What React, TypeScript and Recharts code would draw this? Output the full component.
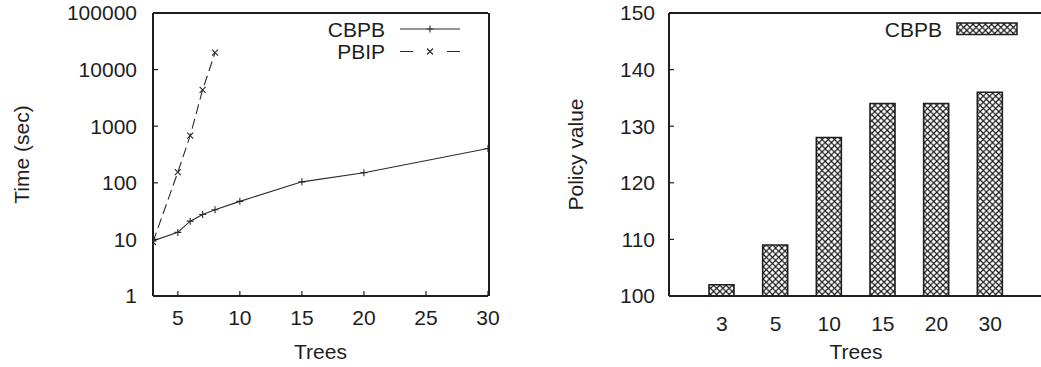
import { LineChart, Line, BarChart, Bar, XAxis, YAxis, Legend } from 'recharts';

// Run time per number of trees (log scale)
const CBPB_TREES = [3, 5, 6, 7, 8, 10, 15, 20, 30];
const CBPB_TIME = [9.4, 13.3, 21, 27.5, 33.5, 47, 104, 151, 404];
const PBIP_TREES = [3, 5, 6, 7, 8];
const PBIP_TIME = [9, 154, 680, 4400, 19900];

const TREE_TICKS = [5, 10, 15, 20, 25, 30];
const TIME_TICKS = [1, 10, 100, 1000, 10000, 100000];
const TIME_MINOR_TICKS = [2, 5, 8, 20, 50, 80, 200, 500, 800, 2000, 5000, 8000, 20000, 50000, 80000];

// Policy value per number of trees
const TREE_COUNTS = ['3', '5', '10', '15', '20', '30'];
const POLICY_VALUES = [102, 109, 128, 134, 134, 136];
const POLICY_TICKS = [100, 110, 120, 130, 140, 150];

const cbpbData = CBPB_TREES.map((t, i) => ({ trees: t, time: CBPB_TIME[i] }));
const pbipData = PBIP_TREES.map((t, i) => ({ trees: t, time: PBIP_TIME[i] }));
const policyData = TREE_COUNTS.map((t, i) => ({ trees: t, value: POLICY_VALUES[i] }));

const FONT = '"Liberation Sans", Arial, Helvetica, sans-serif';
const INK = '#1e1e1e';
const LINE = '#2a2a2a';
const tickFont = { fontSize: 21, fill: INK, fontFamily: FONT };
const axisLine = { stroke: INK, strokeWidth: 2 };
const tickLine = { stroke: INK, strokeWidth: 1.2 };

const plusDot = (p: any) => {
  const { cx, cy, index } = p;
  return (
    <path key={`p${index}`} d={`M${cx - 3.5},${cy}h7M${cx},${cy - 3.5}v7`} stroke={LINE} strokeWidth={1.1} fill="none" />
  );
};

const crossDot = (p: any) => {
  const { cx, cy, index } = p;
  return (
    <path key={`x${index}`} d={`M${cx - 3},${cy - 3}l6,6M${cx - 3},${cy + 3}l6,-6`} stroke={LINE} strokeWidth={1.1} fill="none" />
  );
};

function TimeLegend() {
  return (
    <svg width={180} height={50} style={{ display: 'block' }}>
      <text x={85} y={11} textAnchor="end" dominantBaseline="central" style={tickFont}>CBPB</text>
      <line x1={100} x2={160} y1={11} y2={11} stroke={LINE} strokeWidth={1.1} />
      <path d="M126.5,11h7M130,7.5v7" stroke={LINE} strokeWidth={1.1} />
      <text x={85} y={33.5} textAnchor="end" dominantBaseline="central" style={tickFont}>PBIP</text>
      <line x1={100} x2={160} y1={33.5} y2={33.5} stroke={LINE} strokeWidth={1.1} strokeDasharray="13 34 13" />
      <path d="M127,30.5l6,6M127,36.5l6,-6" stroke={LINE} strokeWidth={1.1} />
    </svg>
  );
}

function PolicyLegend() {
  return (
    <svg width={140} height={24} style={{ display: 'block' }}>
      <text x={62} y={11} textAnchor="end" dominantBaseline="central" style={tickFont}>CBPB</text>
      <rect x={77} y={5} width={60} height={11.5} fill="url(#crosshatch)" stroke={INK} strokeWidth={1.5} />
    </svg>
  );
}

function TimeChart() {
  return (
    <LineChart width={500} height={367} margin={{ top: 12, right: 10, bottom: 70, left: 151 }}>
      <XAxis
        dataKey="trees"
        type="number"
        domain={[3, 30]}
        ticks={TREE_TICKS}
        height={1}
        allowDataOverflow
        axisLine={axisLine}
        tickLine={tickLine}
        tickSize={-5}
        tickMargin={19}
        tick={tickFont}
        label={{ value: 'Trees', position: 'bottom', offset: 47, style: { ...tickFont, textAnchor: 'middle' } }}
      />
      <XAxis
        xAxisId="top"
        orientation="top"
        dataKey="trees"
        type="number"
        domain={[3, 30]}
        ticks={TREE_TICKS}
        height={1}
        axisLine={axisLine}
        tickLine={tickLine}
        tickSize={-5}
        tick={false}
      />
      <YAxis
        scale="log"
        type="number"
        domain={[1, 100000]}
        ticks={TIME_TICKS}
        width={1}
        allowDataOverflow
        axisLine={axisLine}
        tickLine={tickLine}
        tickSize={-5}
        tickMargin={21}
        tick={tickFont}
        label={{ value: 'Time (sec)', angle: -90, position: 'left', offset: 130, style: { ...tickFont, textAnchor: 'middle' } }}
      />
      <YAxis
        yAxisId="minorLeft"
        scale="log"
        type="number"
        domain={[1, 100000]}
        ticks={TIME_MINOR_TICKS}
        width={1}
        axisLine={false}
        tickLine={tickLine}
        tickSize={-4}
        tick={false}
      />
      <YAxis
        yAxisId="right"
        orientation="right"
        scale="log"
        type="number"
        domain={[1, 100000]}
        ticks={TIME_TICKS}
        width={1}
        axisLine={axisLine}
        tickLine={tickLine}
        tickSize={-5}
        tick={false}
      />
      <YAxis
        yAxisId="minorRight"
        orientation="right"
        scale="log"
        type="number"
        domain={[1, 100000]}
        ticks={TIME_MINOR_TICKS}
        width={1}
        axisLine={false}
        tickLine={tickLine}
        tickSize={-4}
        tick={false}
      />
      <Legend
        verticalAlign="middle"
        content={() => <TimeLegend />}
        wrapperStyle={{ position: 'absolute', left: 300, top: 18, width: 180 }}
      />
      <Line
        data={cbpbData}
        dataKey="time"
        name="CBPB"
        stroke={LINE}
        strokeWidth={1.1}
        dot={plusDot}
        activeDot={false}
        isAnimationActive={false}
      />
      <Line
        data={pbipData}
        dataKey="time"
        name="PBIP"
        stroke={LINE}
        strokeWidth={1.1}
        strokeDasharray="10 5"
        dot={crossDot}
        activeDot={false}
        isAnimationActive={false}
      />
    </LineChart>
  );
}

function PolicyChart() {
  return (
    <BarChart width={505} height={367} data={policyData} margin={{ top: 12, right: 1, bottom: 70, left: 128 }}>
      <defs>
        <pattern id="crosshatch" width={6.2} height={6.2} patternUnits="userSpaceOnUse">
          <rect width={6.2} height={6.2} fill="#fff" />
          <path d="M0,0L6.2,6.2M0,6.2L6.2,0" stroke="#111" strokeWidth={1.1} />
        </pattern>
      </defs>
      <XAxis
        dataKey="trees"
        height={1}
        padding={{ left: 26, right: 26 }}
        axisLine={axisLine}
        tickLine={false}
        tickMargin={14}
        tick={tickFont}
        label={{ value: 'Trees', position: 'bottom', offset: 47, style: { ...tickFont, textAnchor: 'middle' } }}
      />
      <XAxis xAxisId="top" orientation="top" dataKey="trees" height={1} axisLine={axisLine} tickLine={false} tick={false} />
      <YAxis
        type="number"
        domain={[100, 150]}
        ticks={POLICY_TICKS}
        width={1}
        allowDataOverflow
        axisLine={axisLine}
        tickLine={tickLine}
        tickSize={-5}
        tickMargin={19}
        tick={tickFont}
        label={{ value: 'Policy value', angle: -90, position: 'left', offset: 92, style: { ...tickFont, textAnchor: 'middle' } }}
      />
      <YAxis
        yAxisId="right"
        orientation="right"
        type="number"
        domain={[100, 150]}
        ticks={POLICY_TICKS}
        width={1}
        axisLine={axisLine}
        tickLine={tickLine}
        tickSize={-5}
        tick={false}
      />
      <Legend
        verticalAlign="middle"
        content={() => <PolicyLegend />}
        wrapperStyle={{ position: 'absolute', left: 340, top: 18, width: 140 }}
      />
      <Bar
        dataKey="value"
        name="CBPB"
        barSize={25}
        fill="url(#crosshatch)"
        stroke={INK}
        strokeWidth={1.6}
        isAnimationActive={false}
      />
    </BarChart>
  );
}

export default function App() {
  return (
    <div
      style={{
        position: 'absolute',
        left: 0,
        top: 0,
        width: 1041,
        height: 367,
        overflow: 'hidden',
        background: '#fff',
        fontFamily: FONT,
      }}
    >
      <div style={{ position: 'absolute', left: 0, top: 0 }}>
        <TimeChart />
      </div>
      <div style={{ position: 'absolute', left: 540, top: 0 }}>
        <PolicyChart />
      </div>
    </div>
  );
}
